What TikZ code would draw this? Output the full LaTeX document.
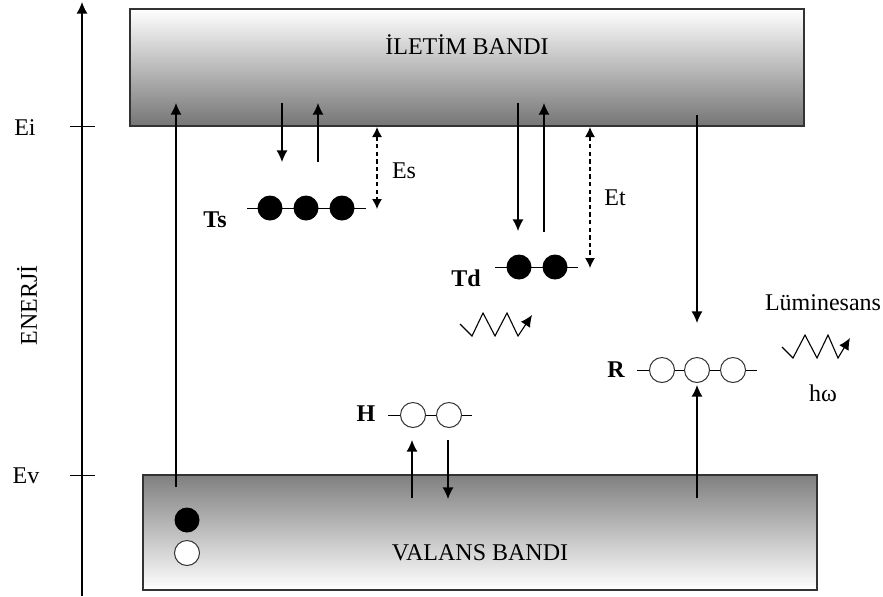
\documentclass[tikz,border=0pt]{standalone}
\usepackage{fontspec}
\setmainfont{Liberation Serif}
\usetikzlibrary{arrows.meta}
\begin{document}
\begin{tikzpicture}[x=0.5pt,y=-0.5pt,
    font=\fontsize{12}{14}\selectfont,
    >={Latex[length=5.8pt,width=5.5pt]},
    trans/.style={->,line width=0.65pt},
    gap/.style={<->,>={Latex[length=5pt,width=5pt]},line width=0.65pt,dash pattern=on 2.2pt off 1.6pt},
    band/.style={draw=black!80,line width=0.9pt},
    level/.style={line width=0.5pt},
    electron/.style={circle,fill=black,minimum size=12.5pt,inner sep=0pt},
    hole/.style={circle,draw=black!80,fill=white,line width=0.5pt,minimum size=12.5pt,inner sep=0pt},
    trap/.style={font=\fontsize{12}{14}\selectfont\bfseries}]
    \useasboundingbox[fill=white] (0,0) rectangle (883,596);

    % Energy axis
    \coordinate (ax0) at (82,596);
    \coordinate (ax1) at (82,2);
    \draw[trans] (ax0) -- (ax1);
    \draw[level] (70,126) -- (95,126);
    \draw[level] (70,475) -- (95,475);
    \node (ei) at (25,128) {Ei};
    \node (ev) at (26,476) {Ev};
    \node[rotate=90] (en) at (27,305) {ENERJİ};

    % Bands
    \shade[top color=white,bottom color=black!54] (130,9) rectangle (804,126);
    \draw[band] (130,9) rectangle (804,126);
    \node (cb) at (467,45) {İLETİM BANDI};
    \shade[top color=black!50,bottom color=white] (143,475) rectangle (817,590);
    \draw[band] (143,475) rectangle (817,590);
    \node (vb) at (480,553) {VALANS BANDI};
    \node[electron] (e0) at (187,520) {};
    \node[hole] (h0) at (187,553) {};

    % Shallow trap Ts
    \draw[level] (247,208) -- (366,208);
    \foreach \x/\n in {270/1,306/2,342/3}
        \node[electron] (ts\n) at (\x,208) {};
    \node[trap] (ts) at (215,220) {Ts};

    % Deep trap Td
    \draw[level] (495,267) -- (578,267);
    \foreach \x/\n in {519/1,555/2}
        \node[electron] (td\n) at (\x,267) {};
    \node[trap] (td) at (466,278) {Td};

    % Recombination centre R
    \draw[level] (637,370) -- (757,370);
    \foreach \x/\n in {662/1,697/2,733/3}
        \node[hole] (r\n) at (\x,370) {};
    \node[trap] (r) at (616,370) {R};

    % Hole trap H
    \draw[level] (388,415) -- (472,415);
    \foreach \x/\n in {413/1,449/2}
        \node[hole] (hh\n) at (\x,415) {};
    \node[trap] (h) at (366,414) {H};

    % Transitions
    \coordinate (a0) at (176,487); \coordinate (a1) at (176,103);
    \draw[trans] (a0) -- (a1);
    \coordinate (b0) at (282,103); \coordinate (b1) at (282,162);
    \draw[trans] (b0) -- (b1);
    \coordinate (c0) at (318,162); \coordinate (c1) at (318,103);
    \draw[trans] (c0) -- (c1);
    \coordinate (d0) at (518,103); \coordinate (d1) at (518,231);
    \draw[trans] (d0) -- (d1);
    \coordinate (f0) at (544,232); \coordinate (f1) at (544,103);
    \draw[trans] (f0) -- (f1);
    \coordinate (g0) at (697,115); \coordinate (g1) at (697,323);
    \draw[trans] (g0) -- (g1);
    \coordinate (k0) at (697,498); \coordinate (k1) at (697,385);
    \draw[trans] (k0) -- (k1);
    \coordinate (m0) at (412,498); \coordinate (m1) at (412,440);
    \draw[trans] (m0) -- (m1);
    \coordinate (n0) at (448,440); \coordinate (n1) at (448,499);
    \draw[trans] (n0) -- (n1);

    % Trap depths
    \coordinate (es0) at (377,127); \coordinate (es1) at (377,209);
    \draw[gap] (es0) -- (es1);
    \node (es) at (404,171) {Es};
    \coordinate (et0) at (590,127); \coordinate (et1) at (590,268);
    \draw[gap] (et0) -- (et1);
    \node (et) at (615,198) {Et};

    % Emitted light
    \draw[->,line width=0.55pt] (460,324) -- (472,336) -- (483,313) -- (495,336)
        -- (507,313) -- (518,336) -- (532,315);
    \draw[->,line width=0.55pt] (782,347) -- (793,358) -- (805,335) -- (817,358)
        -- (828,335) -- (838,358) -- (850,338);
    \node (lum) at (823,303) {Lüminesans};
    \node (hw) at (823,393) {hω};
\end{tikzpicture}
\end{document}
